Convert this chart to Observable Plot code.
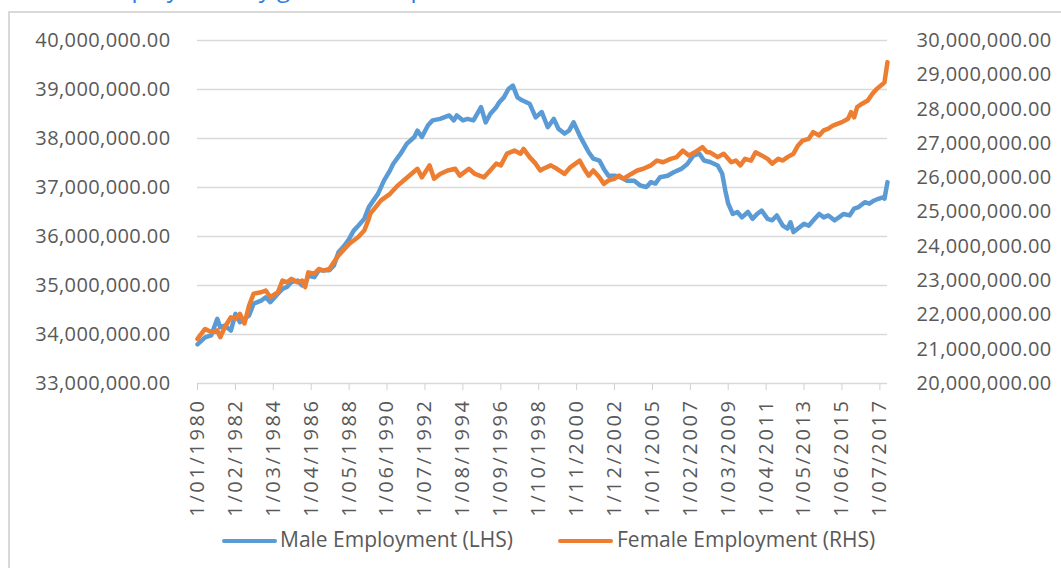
<!DOCTYPE html>
<html>
<head>
<meta charset="utf-8">
<script src="https://cdn.jsdelivr.net/npm/d3@7"></script>
<script src="https://cdn.jsdelivr.net/npm/@observablehq/plot@0.6"></script>
<style>
html, body { margin:0; padding:0; background:#fff; }
body { width:1061px; height:568px; overflow:hidden; position:relative; font-family:"Open Sans", sans-serif; }
#frame { position:absolute; left:8px; top:11px; width:1200px; height:700px; border-left:2px solid #d9d9d9; border-top:2px solid #d9d9d9; }
#title { position:absolute; left:96px; top:-23px; font-size:24px; line-height:22px; color:#2b7de0; white-space:nowrap; }
#chart { position:absolute; left:0; top:0; }
#chart g[aria-label="x-axis tick label"] text { letter-spacing:2.6px; }
#chart g[aria-label="y-axis tick label"] text { letter-spacing:0.4px; }
.sw { position:absolute; height:4px; border-radius:2px; }
.lt { position:absolute; font-size:21px; line-height:24px; color:#595959; white-space:nowrap; }
</style>
</head>
<body>
<div id="frame"></div>
<div id="title">Employment by gender compared</div>
<div id="chart"></div>
<div id="legend"></div>
<script>
// ---- Data (values in millions of persons) ----
const maleDates = ["1980-01","1980-06","1980-10","1981-02","1981-04","1981-07","1981-11","1982-02","1982-05","1982-11","1983-02","1983-07","1983-10","1984-01","1984-06","1984-09","1984-12","1985-03","1985-07","1985-10","1985-12","1986-02","1986-06","1986-09","1986-12","1987-04","1987-07","1987-10","1988-02","1988-05","1988-08","1988-11","1989-03","1989-06","1989-12","1990-04","1990-08","1990-10","1991-03","1991-07","1991-12","1992-02","1992-05","1992-09","1992-12","1993-05","1993-11","1994-02","1994-04","1994-08","1994-11","1995-03","1995-08","1995-11","1996-02","1996-06","1996-08","1996-11","1997-02","1997-05","1997-08","1997-11","1998-04","1998-08","1998-12","1999-04","1999-08","1999-11","2000-03","2000-06","2000-09","2001-01","2001-04","2001-07","2001-10","2002-02","2002-05","2002-08","2002-12","2003-04","2003-08","2004-01","2004-05","2004-09","2004-12","2005-03","2005-06","2005-11","2006-03","2006-08","2006-12","2007-04","2007-08","2007-11","2008-03","2008-08","2008-11","2009-01","2009-03","2009-06","2009-09","2009-12","2010-04","2010-07","2010-10","2011-01","2011-05","2011-08","2011-11","2012-03","2012-06","2012-08","2012-10","2013-02","2013-05","2013-08","2013-12","2014-03","2014-06","2014-09","2015-01","2015-04","2015-07","2015-11","2016-02","2016-05","2016-09","2016-12","2017-03","2017-06","2017-09","2017-10","2017-12"];
const maleValues = [33.80,33.94,33.98,34.32,34.15,34.18,34.08,34.42,34.25,34.39,34.63,34.69,34.76,34.66,34.83,34.93,34.97,35.07,35.10,35.00,35.03,35.20,35.17,35.31,35.31,35.31,35.41,35.68,35.82,35.95,36.12,36.22,36.36,36.60,36.87,37.14,37.35,37.48,37.69,37.89,38.03,38.16,38.03,38.27,38.37,38.40,38.47,38.37,38.47,38.37,38.40,38.37,38.64,38.33,38.50,38.64,38.74,38.84,39.01,39.08,38.84,38.78,38.71,38.43,38.54,38.23,38.40,38.20,38.10,38.16,38.33,38.06,37.89,37.72,37.59,37.55,37.38,37.24,37.24,37.21,37.14,37.14,37.04,37.01,37.11,37.08,37.21,37.24,37.31,37.38,37.48,37.65,37.69,37.55,37.52,37.45,37.28,36.94,36.67,36.46,36.50,36.39,36.50,36.36,36.46,36.53,36.36,36.33,36.43,36.22,36.16,36.29,36.09,36.19,36.26,36.22,36.36,36.46,36.39,36.43,36.33,36.39,36.46,36.43,36.57,36.60,36.70,36.67,36.73,36.77,36.80,36.77,37.11];

const femaleDates = ["1980-01","1980-06","1980-10","1981-02","1981-04","1981-07","1981-11","1982-02","1982-05","1982-08","1982-11","1983-02","1983-07","1983-10","1984-01","1984-06","1984-09","1984-12","1985-03","1985-07","1985-10","1985-12","1986-02","1986-06","1986-09","1986-12","1987-04","1987-07","1987-10","1988-02","1988-05","1988-08","1988-11","1989-03","1989-06","1989-07","1990-02","1990-08","1991-01","1991-05","1991-10","1992-02","1992-05","1992-10","1993-01","1993-05","1993-10","1994-03","1994-06","1994-12","1995-04","1995-10","1996-02","1996-06","1996-09","1997-01","1997-06","1997-10","1997-12","1998-04","1998-08","1998-11","1999-01","1999-06","1999-10","2000-03","2000-07","2001-01","2001-04","2001-07","2001-10","2002-02","2002-05","2002-08","2002-12","2003-03","2003-06","2003-11","2004-03","2004-07","2004-12","2005-04","2005-08","2006-01","2006-05","2006-09","2007-01","2007-05","2007-10","2008-01","2008-03","2008-08","2008-12","2009-05","2009-08","2009-11","2010-02","2010-06","2010-09","2011-01","2011-05","2011-08","2011-12","2012-03","2012-06","2012-10","2013-01","2013-04","2013-08","2013-11","2014-03","2014-06","2014-09","2014-12","2015-03","2015-06","2015-10","2015-12","2016-02","2016-04","2016-07","2016-11","2017-02","2017-05","2017-09","2017-10","2017-12"];
const femaleValues = [21.30,21.59,21.50,21.55,21.35,21.64,21.93,21.89,22.03,21.75,22.27,22.62,22.66,22.71,22.52,22.66,23.00,22.95,23.05,22.95,23.00,22.81,23.24,23.20,23.34,23.29,23.34,23.54,23.73,23.93,24.07,24.17,24.27,24.46,24.80,24.95,25.34,25.53,25.77,25.92,26.11,26.26,26.01,26.36,25.97,26.11,26.21,26.26,26.06,26.26,26.11,26.01,26.21,26.41,26.36,26.70,26.79,26.70,26.84,26.60,26.41,26.21,26.26,26.36,26.26,26.11,26.31,26.50,26.26,26.06,26.21,26.01,25.82,25.92,25.97,26.06,25.97,26.11,26.21,26.26,26.36,26.50,26.45,26.55,26.60,26.79,26.65,26.74,26.89,26.74,26.74,26.60,26.70,26.45,26.50,26.36,26.55,26.50,26.74,26.65,26.55,26.41,26.55,26.50,26.60,26.70,26.94,27.08,27.13,27.33,27.23,27.38,27.43,27.52,27.57,27.62,27.72,27.91,27.76,28.06,28.15,28.25,28.45,28.59,28.74,28.78,29.37];

const leftTicks = [33, 34, 35, 36, 37, 38, 39, 40];
const rightTicks = [20, 21, 22, 23, 24, 25, 26, 27, 28, 29, 30];
const xTickDates = ["1980-01","1982-02","1984-03","1986-04","1988-05","1990-06","1992-07","1994-08","1996-09","1998-10","2000-11","2002-12","2005-01","2007-02","2009-03","2011-04","2013-05","2015-06","2017-07"];
const seriesNames = ["Male Employment (LHS)", "Female Employment (RHS)"];
const seriesColors = ["#5b9bd5", "#ed7d31"];

// ---- Build ----
const parse = d3.utcParse("%Y-%m");
const male = maleDates.map((d, i) => ({date: parse(d), value: maleValues[i]}));
const female = femaleDates.map((d, i) => ({date: parse(d), value: femaleValues[i]}));
const L0 = leftTicks[0], L1 = leftTicks[leftTicks.length - 1];
const R0 = rightTicks[0], R1 = rightTicks[rightTicks.length - 1];
const toLeft = r => L0 + (r - R0) * (L1 - L0) / (R1 - R0);
const fromLeft = l => R0 + (l - L0) * (R1 - R0) / (L1 - L0);
const fmt = v => d3.format(",.2f")(Math.round(v * 1e6));
const fmtDate = d => "1/" + d3.utcFormat("%m/%Y")(d);

const chart = Plot.plot({
  width: 1061,
  height: 568,
  marginLeft: 197,
  marginRight: 174,
  marginTop: 40,
  marginBottom: 185,
  x: {type: "utc", domain: [parse("1980-01"), parse("2017-12")]},
  y: {domain: [L0, L1]},
  style: {fontFamily: '"Open Sans", sans-serif', fontSize: "20px", color: "#595959", background: "transparent", overflow: "visible"},
  marks: [
    Plot.gridY(leftTicks, {stroke: "#d9d9d9", strokeOpacity: 1, strokeWidth: 1.3}),
    Plot.axisY(leftTicks, {anchor: "left", tickSize: 0, tickPadding: 27, tickFormat: fmt, label: null, fill: "#595959"}),
    Plot.axisY(rightTicks.map(toLeft), {anchor: "right", tickSize: 0, tickPadding: 29, tickFormat: d => fmt(fromLeft(d)), label: null, fill: "#595959"}),
    Plot.axisX(xTickDates.map(parse), {anchor: "bottom", tickSize: 7, tickPadding: 8, tickRotate: -90, tickFormat: fmtDate, label: null, stroke: "#d0d0d0", fill: "#595959"}),
    Plot.lineY(male, {x: "date", y: "value", stroke: seriesColors[0], strokeWidth: 4.5}),
    Plot.lineY(female, {x: "date", y: d => toLeft(d.value), stroke: seriesColors[1], strokeWidth: 4.5})
  ]
});
document.getElementById("chart").appendChild(chart);

// ---- Legend ----
const legend = document.getElementById("legend");
const items = [{sw: 222, tx: 280}, {sw: 558, tx: 617}];
items.forEach((it, i) => {
  const s = document.createElement("div");
  s.className = "sw";
  s.style.left = it.sw + "px";
  s.style.top = "539px";
  s.style.width = "55px";
  s.style.background = seriesColors[i];
  legend.appendChild(s);
  const t = document.createElement("div");
  t.className = "lt";
  t.style.left = it.tx + "px";
  t.style.top = "527px";
  t.textContent = seriesNames[i];
  legend.appendChild(t);
});
</script>
</body>
</html>
